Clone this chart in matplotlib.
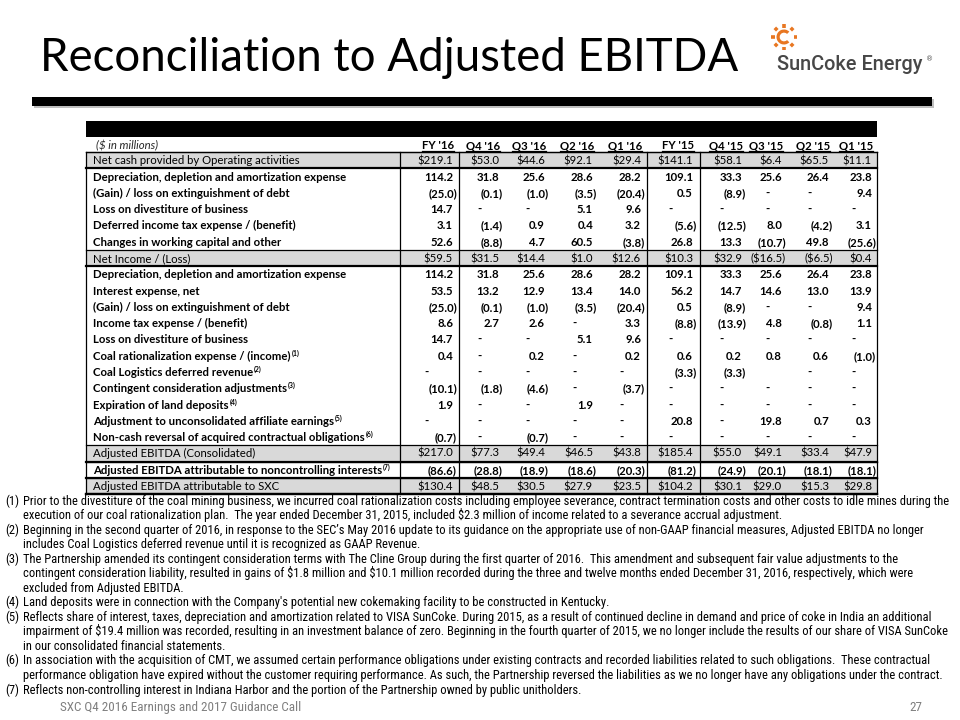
import numpy as np
import matplotlib
matplotlib.use("Agg")
import matplotlib.pyplot as plt
from matplotlib import font_manager
from matplotlib.patches import Rectangle, Wedge

# ---- data -------------------------------------------------------------
periods = ["FY '16", "Q4 '16", "Q3 '16", "Q2 '16", "Q1 '16",
           "FY '15", "Q4 '15", "Q3 '15", "Q2 '15", "Q1 '15"]

# None -> "-" , "" -> empty cell
net_cash = [219.1, 53.0, 44.6, 92.1, 29.4, 141.1, 58.1, 6.4, 65.5, 11.1]
dda = [114.2, 31.8, 25.6, 28.6, 28.2, 109.1, 33.3, 25.6, 26.4, 23.8]
gain_debt = [-25.0, -0.1, -1.0, -3.5, -20.4, 0.5, -8.9, None, None, 9.4]
loss_divest = [14.7, None, None, 5.1, 9.6, None, None, None, None, None]
deferred_tax = [3.1, -1.4, 0.9, 0.4, 3.2, -5.6, -12.5, 8.0, -4.2, 3.1]
working_cap = [52.6, -8.8, 4.7, 60.5, -3.8, 26.8, 13.3, -10.7, 49.8, -25.6]
net_income = [59.5, 31.5, 14.4, 1.0, 12.6, 10.3, 32.9, -16.5, -6.5, 0.4]
interest = [53.5, 13.2, 12.9, 13.4, 14.0, 56.2, 14.7, 14.6, 13.0, 13.9]
income_tax = [8.6, 2.7, 2.6, None, 3.3, -8.8, -13.9, 4.8, -0.8, 1.1]
coal_rational = [0.4, None, 0.2, None, 0.2, 0.6, 0.2, 0.8, 0.6, -1.0]
coal_logistics = [None, None, None, None, None, -3.3, -3.3, "", None, None]
contingent = [-10.1, -1.8, -4.6, None, -3.7, None, None, None, None, None]
land_deposits = [1.9, None, None, 1.9, None, None, None, None, None, None]
affiliate = [None, None, None, None, None, 20.8, None, 19.8, 0.7, 0.3]
noncash_rev = [-0.7, None, -0.7, None, None, None, None, None, None, None]
adj_ebitda = [217.0, 77.3, 49.4, 46.5, 43.8, 185.4, 55.0, 49.1, 33.4, 47.9]
adj_nci = [-86.6, -28.8, -18.9, -18.6, -20.3, -81.2, -24.9, -20.1, -18.1, -18.1]
adj_sxc = [130.4, 48.5, 30.5, 27.9, 23.5, 104.2, 30.1, 29.0, 15.3, 29.8]

# (label, footnote, values, kind)
rows = [
    ("Net cash provided by Operating activities", "", net_cash, "total"),
    ("Depreciation, depletion and amortization expense", "", dda, "item"),
    ("(Gain) / loss on extinguishment of debt", "", gain_debt, "item"),
    ("Loss on divestiture of business", "", loss_divest, "item"),
    ("Deferred income tax expense / (benefit)", "", deferred_tax, "item"),
    ("Changes in working capital and other", "", working_cap, "item"),
    ("Net Income / (Loss)", "", net_income, "total"),
    ("Depreciation, depletion and amortization expense", "", dda, "item"),
    ("Interest expense, net", "", interest, "item"),
    ("(Gain) / loss on extinguishment of debt", "", gain_debt, "item"),
    ("Income tax expense / (benefit)", "", income_tax, "item"),
    ("Loss on divestiture of business", "", loss_divest, "item"),
    ("Coal rationalization expense / (income)", "(1)", coal_rational, "item"),
    ("Coal Logistics deferred revenue", "(2)", coal_logistics, "item"),
    ("Contingent consideration adjustments", "(3)", contingent, "item"),
    ("Expiration of land deposits", "(4)", land_deposits, "item"),
    ("Adjustment to unconsolidated affiliate earnings", "(5)", affiliate, "item"),
    ("Non-cash reversal of acquired contractual obligations", "(6)", noncash_rev, "item"),
    ("Adjusted EBITDA (Consolidated)", "", adj_ebitda, "total"),
    ("Adjusted EBITDA attributable to noncontrolling interests", "(7)", adj_nci, "item"),
    ("Adjusted EBITDA attributable to SXC", "", adj_sxc, "total"),
]

footnotes = [
    ("(1)", ["Prior to the divestiture of the coal mining business, we incurred coal rationalization costs including employee severance, contract termination costs and other costs to idle mines during the",
             "execution of our coal rationalization plan.  The year ended December 31, 2015, included $2.3 million of income related to a severance accrual adjustment."]),
    ("(2)", ["Beginning in the second quarter of 2016, in response to the SEC\u2019s May 2016 update to its guidance on the appropriate use of non-GAAP financial measures, Adjusted EBITDA no longer",
             "includes Coal Logistics deferred revenue until it is recognized as GAAP Revenue."]),
    ("(3)", ["The Partnership amended its contingent consideration terms with The Cline Group during the first quarter of 2016.  This amendment and subsequent fair value adjustments to the",
             "contingent consideration liability, resulted in gains of $1.8 million and $10.1 million recorded during the three and twelve months ended December 31, 2016, respectively, which were",
             "excluded from Adjusted EBITDA."]),
    ("(4)", ["Land deposits were in connection with the Company's potential new cokemaking facility to be constructed in Kentucky."]),
    ("(5)", ["Reflects share of interest, taxes, depreciation and amortization related to VISA SunCoke. During 2015, as a result of continued decline in demand and price of coke in India an additional",
             "impairment of $19.4 million was recorded, resulting in an investment balance of zero. Beginning in the fourth quarter of 2015, we no longer include the results of our share of VISA SunCoke",
             "in our consolidated financial statements."]),
    ("(6)", ["In association with the acquisition of CMT, we assumed certain performance obligations under existing contracts and recorded liabilities related to such obligations.  These contractual",
             "performance obligation have expired without the customer requiring performance. As such, the Partnership reversed the liabilities as we no longer have any obligations under the contract."]),
    ("(7)", ["Reflects non-controlling interest in Indiana Harbor and the portion of the Partnership owned by public unitholders."]),
]

title = "Reconciliation to Adjusted EBITDA"
footer = "SXC Q4 2016 Earnings and 2017 Guidance Call"
page_no = "27"

# ---- fonts ------------------------------------------------------------
avail = {f.name for f in font_manager.fontManager.ttflist}
narrow = next((f for f in ["Liberation Sans Narrow", "Roboto Condensed",
                           "Noto Sans Condensed", "Open Sans Condensed"]
               if f in avail), None)
if narrow:
    NARROW = dict(family=narrow)
else:
    NARROW = dict(family="Noto Sans", fontstretch="condensed")
MAIN = "Lato" if "Lato" in avail else "DejaVu Sans"


def fmt(v, kind):
    if v is None:
        return "-"
    if v == "":
        return ""
    cur = "$" if kind == "total" else ""
    if v < 0:
        return f"({cur}{abs(v):.1f})"
    return f"{cur}{v:.1f}"


# ---- figure -----------------------------------------------------------
fig = plt.figure(figsize=(9.6, 7.2), dpi=100)
ax = fig.add_axes([0, 0, 1, 1])
ax.set_xlim(0, 960)
ax.set_ylim(720, 0)
ax.axis("off")
rend = fig.canvas.get_renderer()


def ext(t):
    return t.get_window_extent(rend)


def px(pt):
    return pt * 100 / 72


# title, fitted to the slide width
t = ax.text(40, 71, title, fontsize=36, family=MAIN, va="baseline")
t.set_fontsize(36 * 700 / ext(t).width)

# logo
orange = "#E87722"
ax.add_patch(Wedge((784, 37), 7.5, 45, 315, width=3.2, color=orange, lw=0))
for a in np.arange(0, 360, 45):
    ca, sa = np.cos(np.radians(a)), np.sin(np.radians(a))
    ax.plot([784 + 9.5 * ca, 784 + 13 * ca], [37 + 9.5 * sa, 37 + 13 * sa],
            color=orange, lw=2.6, solid_capstyle="butt")
lt = ax.text(777, 65, "SunCoke Energy", fontsize=14, family="Roboto",
             color="#474747", va="center", fontweight="medium")
lt.set_fontsize(14 * 146 / ext(lt).width)
ax.text(926, 59, "\u00ae", fontsize=5, color="#4D4D4D", va="center")

# thick divider with a soft shadow
ax.add_patch(Rectangle((34, 99), 900, 9, color="#BFBFBF", lw=0))
ax.add_patch(Rectangle((32, 97), 900, 9, color="black", lw=0))

# ---- table ------------------------------------------------------------
x_left, x_right = 86, 877
x_lab = 93
col_bounds = [400, 459, 507, 554, 601, 647, 700, 750, 790, 835, 877]
col_right = [457, 503, 549, 597, 645, 697, 746, 786, 833, 876]
y_top_band, y_head = 121, 145
y0 = 152
rh = 16.29
y_end = y0 + rh * len(rows)

ax.add_patch(Rectangle((x_left, y_top_band), x_right - x_left, 16, color="black", lw=0))

# font size for table, fitted on the longest label
probe = ax.text(x_lab, 0, rows[19][0], fontsize=8, family=MAIN, fontweight="bold")
fs = 8 * 290 / ext(probe).width
probe.remove()
cap = 0.72 * px(fs)          # Lato cap height in pixels

ax.text(96, y_head + cap / 2, "($ in millions)", fontsize=fs, family=MAIN, style="italic",
        color="#262626", va="baseline", parse_math=False)
for j, p in enumerate(periods):
    ht = ax.text(col_right[j] - 3, y_head + cap / 2, p, fontsize=fs, family=MAIN,
                 fontweight="bold", ha="right", va="baseline")
    bb = ext(ht)
    ax.plot([bb.x0, bb.x1], [y_head + cap / 2 + 2, y_head + cap / 2 + 2], color="black", lw=0.9)

for i, (label, note, vals, kind) in enumerate(rows):
    yt, yc = y0 + i * rh, y0 + (i + 0.5) * rh
    yb = round(yc + cap / 2)
    weight = "normal" if kind == "total" else "bold"
    if kind == "total":
        ax.add_patch(Rectangle((x_left, yt), x_right - x_left, rh, color="#D9D9D9", lw=0))
    lt = ax.text(x_lab, yb, label, fontsize=fs, family=MAIN, fontweight=weight,
                 va="baseline", color="black")
    if note:
        bb = ext(lt)
        ax.text(bb.x1 + 1, yb - cap * 0.5, note, fontsize=fs * 0.6, family=MAIN,
                fontweight="bold", va="baseline")
    for j, v in enumerate(vals):
        s = fmt(v, kind)
        if s == "-":
            xc = (col_bounds[j] + col_bounds[j + 1]) / 2 - 3
            ax.text(xc, yb, s, fontsize=fs, family=MAIN, fontweight=weight,
                    ha="center", va="baseline", parse_math=False)
        elif s:
            xr = col_right[j] if s.endswith(")") else col_right[j] - 4
            ax.text(xr, yb, s, fontsize=fs, family=MAIN, fontweight=weight,
                    ha="right", va="baseline", parse_math=False)

# horizontal rules
ax.plot([x_left, x_right], [y0, y0], color="black", lw=0.9)
for i, (label, note, vals, kind) in enumerate(rows):
    yt, yb = y0 + i * rh, y0 + (i + 1) * rh
    if kind == "total" or label.startswith("Adjusted EBITDA attributable to non"):
        ax.plot([x_left, x_right], [yt, yt], color="black", lw=0.9)
        ax.plot([x_left, x_right], [yb, yb], color="black", lw=1.6)
# vertical rules and frame
for xv in [x_left, 400, 459, 647, 700, x_right]:
    ax.plot([xv, xv], [y0, y_end], color="black", lw=0.9)
ax.plot([x_left, x_right], [y_end, y_end], color="black", lw=1.6)

# ---- footnotes --------------------------------------------------------
fp = ax.text(23, 0, footnotes[0][1][0], fontsize=8, **NARROW)
fs_note = 8 * 925 / ext(fp).width
fp.remove()
ncap = 0.73 * px(fs_note)

y = 500
ln = (689 - 500) / 13
for tag, lines in footnotes:
    ax.text(5, y + ncap / 2, tag, fontsize=fs_note, va="baseline", color="black", **NARROW)
    for line in lines:
        ax.text(23, y + ncap / 2, line, fontsize=fs_note, va="baseline", color="black",
                parse_math=False, **NARROW)
        y += ln

ax.text(60, 706 + ncap / 2, footer, fontsize=fs_note * 1.05, va="baseline",
        color="#7F7F7F", **NARROW)
ax.text(922, 706 + ncap / 2, page_no, fontsize=fs_note * 1.05, va="baseline", ha="right",
        color="#7F7F7F", **NARROW)

fig.savefig("out.png", dpi=100)
